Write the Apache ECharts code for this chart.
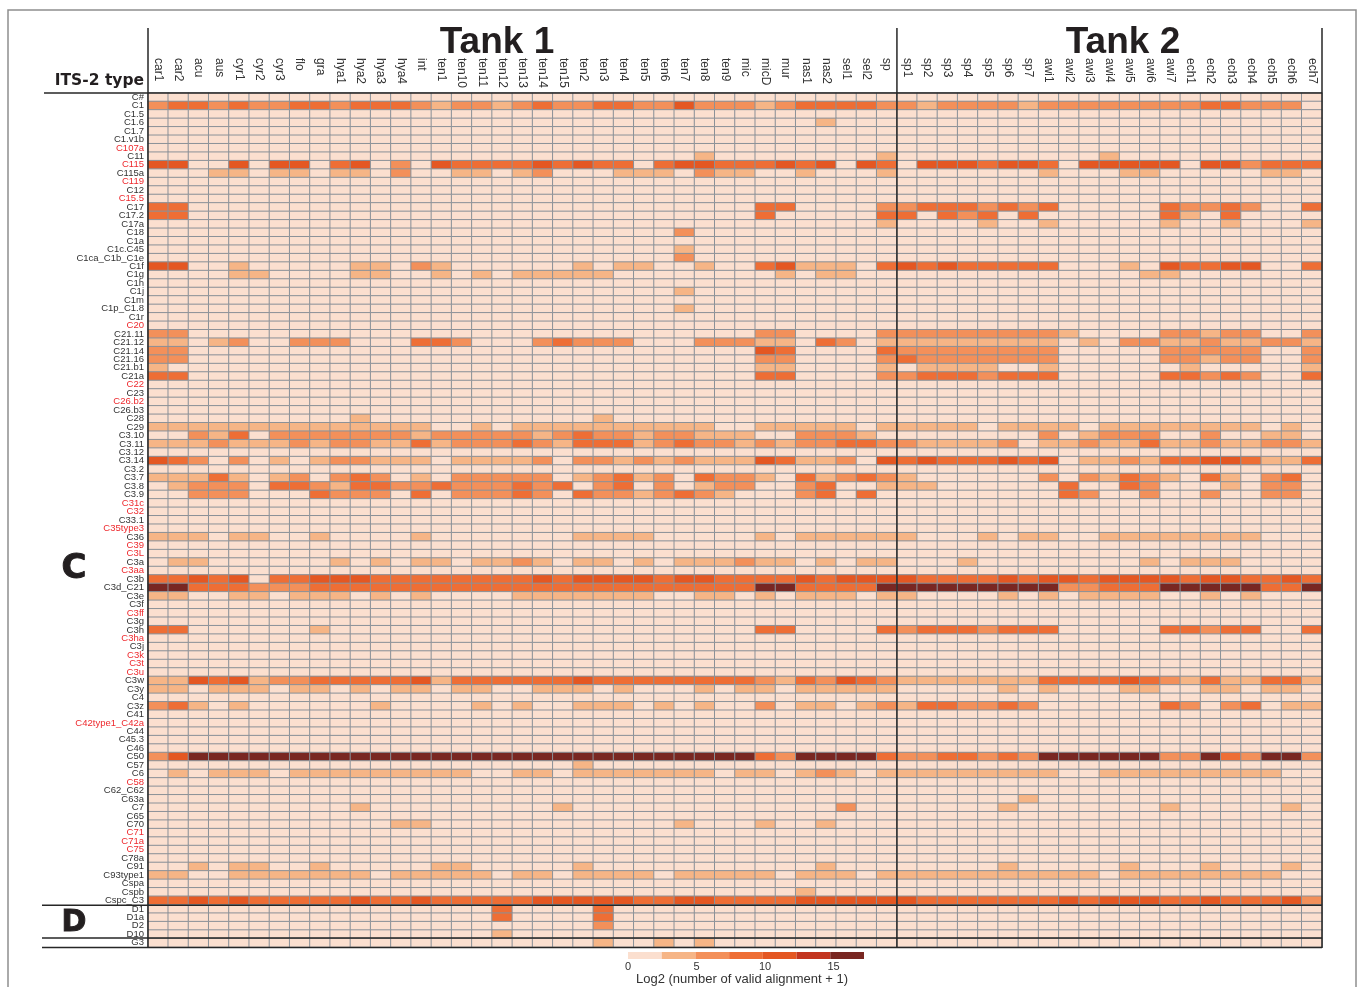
<!DOCTYPE html>
<html>
<head>
<meta charset="utf-8">
<title>ITS-2 type heat map</title>
<script src="https://cdn.jsdelivr.net/npm/echarts@6/dist/echarts.min.js"></script>
<style>html,body{margin:0;padding:0;background:#fff}#c{width:1358px;height:987px}</style>
</head>
<body>
<div id="c"></div>
<script>
const samples = ['car1','car2','acu','aus','cyr1','cyr2','cyr3','flo','gra','hya1','hya2','hya3','hya4','int','ten1','ten10','ten11','ten12','ten13','ten14','ten15','ten2','ten3','ten4','ten5','ten6','ten7','ten8','ten9','mic','micD','mur','nas1','nas2','sel1','sel2','sp','sp1','sp2','sp3','sp4','sp5','sp6','sp7','awi1','awi2','awi3','awi4','awi5','awi6','awi7','ech1','ech2','ech3','ech4','ech5','ech6','ech7'];
const types = ['C#','C1','C1.5','C1.6','C1.7','C1.v1b','C107a','C11','C115','C115a','C119','C12','C15.5','C17','C17.2','C17a','C18','C1a','C1c.C45','C1ca_C1b_C1e','C1f','C1g','C1h','C1j','C1m','C1p_C1.8','C1r','C20','C21.11','C21.12','C21.14','C21.16','C21.b1','C21a','C22','C23','C26.b2','C26.b3','C28','C29','C3.10','C3.11','C3.12','C3.14','C3.2','C3.7','C3.8','C3.9','C31c','C32','C33.1','C35type3','C36','C39','C3L','C3a','C3aa','C3b','C3d_C21','C3e','C3f','C3ff','C3g','C3h','C3ha','C3j','C3k','C3t','C3u','C3w','C3y','C4','C3z','C41','C42type1_C42a','C44','C45.3','C46','C50','C57','C6','C58','C62_C62','C63a','C7','C65','C70','C71','C71a','C75','C78a','C91','C93type1','Cspa','Cspb','Cspc_C3','D1','D1a','D2','D10','G3'];
const redTypes = ['C107a','C115','C119','C15.5','C20','C22','C26.b2','C31c','C32','C35type3','C39','C3L','C3aa','C3ff','C3ha','C3k','C3t','C3u','C42type1_C42a','C58','C71','C71a','C75'];
// Legend bin read for each cell (0 = lightest ... 6 = darkest). Rows not listed are all bin 0.
const rC1      = [2,3,3,2,3,2,2,3,3,2,3,3,3,2,1, 2,2,1,2,3,2,2,3,3,2,2,4,2,2,2,1,2,3,3,3,3,2, 2,1,2,2,2,2,1,2,2,2,2,2,2,2,2,3,3,2,2,2,0];
const rC1_6    = [0,0,0,0,0,0,0,0,0,0,0,0,0,0,0, 0,0,0,0,0,0,0,0,0,0,0,0,0,0,0,0,0,0,1,0,0,0, 0,0,0,0,0,0,0,0,0,0,0,0,0,0,0,0,0,0,0,0,0];
const rC11     = [0,0,0,0,0,0,0,0,0,0,0,0,0,0,0, 0,0,0,0,0,0,0,0,0,0,0,0,1,0,0,0,0,0,0,0,0,1, 0,0,0,0,0,0,0,0,0,0,1,0,0,0,0,0,0,0,0,0,0];
const rC115    = [4,4,0,0,4,0,4,4,0,3,4,0,2,0,4, 3,3,3,3,4,3,4,3,3,0,3,4,4,3,3,3,4,3,4,0,4,3, 0,4,4,4,3,4,4,3,0,4,4,4,4,4,0,4,4,2,3,3,3];
const rC115a   = [0,0,0,1,1,0,1,1,0,1,1,0,2,0,0, 1,1,0,1,2,0,0,0,1,1,1,0,2,1,1,0,0,1,0,0,0,1, 0,0,0,0,0,0,0,1,0,0,0,1,1,0,0,0,0,0,1,1,0];
const rC17     = [3,3,0,0,0,0,0,0,0,0,0,0,0,0,0, 0,0,0,0,0,0,0,0,0,0,0,0,0,0,0,3,3,0,0,0,0,2, 2,3,3,3,2,3,2,3,0,0,0,0,0,3,2,2,3,2,0,0,3];
const rC17_2   = [3,3,0,0,0,0,0,0,0,0,0,0,0,0,0, 0,0,0,0,0,0,0,0,0,0,0,0,0,0,0,3,0,0,0,0,0,3, 3,0,3,2,3,0,3,0,0,0,0,0,0,3,1,0,3,0,0,0,0];
const rC17a    = [0,0,0,0,0,0,0,0,0,0,0,0,0,0,0, 0,0,0,0,0,0,0,0,0,0,0,0,0,0,0,0,0,0,0,0,0,1, 0,0,0,0,1,0,0,1,0,0,0,0,0,1,0,0,1,0,0,0,1];
const rC18     = [0,0,0,0,0,0,0,0,0,0,0,0,0,0,0, 0,0,0,0,0,0,0,0,0,0,0,2,0,0,0,0,0,0,0,0,0,0, 0,0,0,0,0,0,0,0,0,0,0,0,0,0,0,0,0,0,0,0,0];
const rC1c_C45 = [0,0,0,0,0,0,0,0,0,0,0,0,0,0,0, 0,0,0,0,0,0,0,0,0,0,0,1,0,0,0,0,0,0,0,0,0,0, 0,0,0,0,0,0,0,0,0,0,0,0,0,0,0,0,0,0,0,0,0];
const rC1ca    = [0,0,0,0,0,0,0,0,0,0,0,0,0,0,0, 0,0,0,0,0,0,0,0,0,0,0,2,0,0,0,0,0,0,0,0,0,0, 0,0,0,0,0,0,0,0,0,0,0,0,0,0,0,0,0,0,0,0,0];
const rC1f     = [4,4,0,0,1,0,0,0,0,0,1,1,0,2,1, 0,0,0,0,0,0,1,0,1,1,0,0,1,0,0,3,4,1,1,1,0,3, 4,3,4,3,3,3,3,3,0,0,0,1,0,4,3,3,4,4,0,0,3];
const rC1g     = [0,0,0,0,1,1,0,0,0,0,1,1,0,0,1, 0,1,0,1,1,1,1,1,0,0,0,0,0,0,0,0,1,0,1,1,0,0, 0,0,0,0,0,0,0,0,0,0,0,0,1,1,0,0,0,0,0,0,0];
const rC1j     = [0,0,0,0,0,0,0,0,0,0,0,0,0,0,0, 0,0,0,0,0,0,0,0,0,0,0,1,0,0,0,0,0,0,0,0,0,0, 0,0,0,0,0,0,0,0,0,0,0,0,0,0,0,0,0,0,0,0,0];
const rC1p     = [0,0,0,0,0,0,0,0,0,0,0,0,0,0,0, 0,0,0,0,0,0,0,0,0,0,0,1,0,0,0,0,0,0,0,0,0,0, 0,0,0,0,0,0,0,0,0,0,0,0,0,0,0,0,0,0,0,0,0];
const rC21_11  = [2,2,0,0,0,0,0,0,0,0,0,0,0,0,0, 0,0,0,0,0,0,0,0,0,0,0,0,0,0,0,2,2,0,0,0,0,2, 2,2,2,2,2,2,2,2,1,0,0,0,0,2,2,1,2,2,0,0,2];
const rC21_12  = [1,1,0,1,2,0,0,2,2,2,0,0,0,3,3, 2,0,0,0,2,3,2,2,2,0,0,0,2,2,2,1,1,0,3,2,0,1, 1,1,1,1,1,1,1,1,0,1,0,2,2,1,1,2,1,1,2,2,1];
const rC21_14  = [2,2,0,0,0,0,0,0,0,0,0,0,0,0,0, 0,0,0,0,0,0,0,0,0,0,0,0,0,0,0,4,3,0,0,0,0,3, 2,2,2,2,2,2,2,2,0,0,0,0,0,2,2,2,2,2,0,0,2];
const rC21_16  = [2,2,0,0,0,0,0,0,0,0,0,0,0,0,0, 0,0,0,0,0,0,0,0,0,0,0,0,0,0,0,2,2,0,0,0,0,2, 3,2,2,2,2,2,2,2,0,0,0,0,0,2,2,1,2,2,0,0,2];
const rC21_b1  = [1,0,0,0,0,0,0,0,0,0,0,0,0,0,0, 0,0,0,0,0,0,0,0,0,0,0,0,0,0,0,1,1,0,0,0,0,1, 0,1,1,1,1,0,0,1,0,0,0,0,0,0,1,0,0,0,0,0,1];
const rC21a    = [3,3,0,0,0,0,0,0,0,0,0,0,0,0,0, 0,0,0,0,0,0,0,0,0,0,0,0,0,0,0,3,3,0,0,0,0,2, 2,3,3,3,2,3,3,3,0,0,0,0,0,3,3,2,3,2,0,0,3];
const rC28     = [0,0,0,0,0,0,0,0,0,0,1,0,0,0,0, 0,0,0,0,0,0,0,1,0,0,0,0,0,0,0,0,0,0,0,0,0,0, 0,0,0,0,0,0,0,0,0,0,0,0,0,0,0,0,0,0,0,0,0];
const rC29     = [1,1,1,1,1,1,1,1,1,1,1,1,1,1,0, 0,1,0,1,1,1,1,1,1,1,1,1,1,0,0,1,1,1,1,1,0,1, 1,1,1,1,0,1,1,1,1,0,1,1,1,1,1,1,1,1,0,1,0];
const rC3_10   = [0,0,2,1,3,0,2,2,2,2,2,2,2,1,2, 2,2,2,2,1,2,3,2,2,1,2,2,1,1,1,0,0,2,2,2,1,0, 0,0,0,0,0,0,0,2,0,1,2,2,2,0,0,2,0,0,1,1,0];
const rC3_11   = [1,1,1,2,1,1,1,2,1,2,2,1,1,3,1, 2,2,2,3,2,1,3,3,3,1,2,3,2,2,1,2,1,2,2,3,3,2, 2,1,1,1,1,2,0,1,1,2,1,1,3,1,1,2,1,1,2,2,1];
const rC3_14   = [4,3,2,0,2,0,1,0,1,2,2,1,1,1,0, 1,1,1,1,2,0,2,2,1,2,1,2,1,1,1,4,3,1,1,2,0,4, 3,4,3,3,3,4,3,4,0,1,1,2,1,3,3,4,4,3,1,1,3];
const rC3_7    = [1,1,1,3,1,0,1,2,0,2,3,2,0,1,0, 2,2,2,2,2,0,1,2,3,1,2,0,3,2,2,1,0,3,1,2,3,2, 1,0,0,0,0,0,0,2,0,2,1,3,2,1,0,3,1,0,2,3,0];
const rC3_8    = [0,1,2,2,2,0,3,3,2,1,3,3,2,2,3, 2,2,2,3,2,3,0,2,3,0,2,0,1,2,2,0,0,2,3,0,0,1, 1,1,0,0,0,0,0,0,3,0,0,3,2,0,0,0,1,0,2,2,0];
const rC3_9    = [0,0,2,2,2,0,0,0,3,2,2,2,0,3,0, 2,2,2,3,2,0,3,2,2,1,2,3,2,1,0,0,0,2,3,0,3,0, 0,0,0,0,0,0,0,0,3,2,0,0,2,0,0,2,0,0,2,2,0];
const rC36     = [1,1,1,0,1,1,0,0,1,0,0,0,0,1,0, 0,0,0,0,0,0,1,1,1,1,0,0,0,0,0,1,0,1,1,1,1,1, 1,0,0,0,1,0,1,1,0,0,1,1,1,1,1,1,1,1,0,0,0];
const rC3a     = [0,1,1,0,0,0,0,0,0,1,0,1,0,1,1, 0,1,1,2,1,0,1,1,0,1,0,1,1,1,2,1,1,0,1,0,1,1, 0,0,0,1,0,0,0,0,0,0,0,0,1,0,1,1,1,0,0,0,0];
const rC3b     = [3,3,4,3,4,0,3,3,4,4,4,3,3,3,3, 3,3,3,3,4,3,4,4,4,4,3,4,4,3,3,3,3,4,3,4,4,4, 4,3,3,3,3,4,3,4,4,3,4,4,4,4,3,4,4,3,3,4,3];
const rC3d_C21 = [6,6,3,3,3,2,2,2,3,3,3,3,3,3,3, 3,3,3,3,3,3,3,3,3,3,3,3,3,3,3,6,6,3,3,3,3,6, 6,6,6,6,6,6,6,6,2,2,3,3,3,6,6,6,6,6,3,3,6];
const rC3e     = [1,1,0,0,1,1,0,1,1,1,0,1,0,1,0, 0,0,0,1,1,1,1,1,1,1,0,0,1,1,0,1,0,1,1,1,0,1, 1,0,0,0,0,1,0,1,0,1,1,1,1,0,0,1,0,1,0,0,0];
const rC3h     = [3,3,0,0,0,0,0,0,1,0,0,0,0,0,0, 0,0,0,0,0,0,0,0,0,0,0,0,0,0,0,3,3,0,0,0,0,3, 2,3,3,3,2,3,3,3,0,0,0,0,0,3,3,2,3,3,0,0,3];
const rC3w     = [1,1,4,3,4,1,2,2,3,3,3,3,3,4,1, 3,3,3,3,3,3,4,3,3,3,3,3,3,3,3,2,1,3,2,4,3,2, 1,1,1,1,1,1,1,3,3,3,3,4,3,2,1,3,1,1,3,3,1];
const rC3y     = [1,1,0,1,1,1,0,1,1,0,1,0,1,1,0, 1,1,0,0,1,1,1,0,1,0,0,0,1,0,1,1,0,1,1,1,1,1, 0,0,0,0,0,1,0,1,0,0,0,1,1,0,0,1,1,0,1,1,0];
const rC3z     = [2,3,1,0,1,0,0,0,0,0,0,1,0,0,0, 0,1,0,1,0,0,1,1,1,0,1,0,1,0,0,2,0,1,1,0,1,2, 1,3,3,2,2,3,2,0,0,0,0,0,0,3,2,0,2,3,0,1,1];
const rC50     = [2,4,6,6,6,6,6,6,6,6,6,6,6,6,6, 6,6,6,6,6,6,6,6,6,6,6,6,6,6,6,3,2,6,6,6,6,3, 2,2,3,3,2,3,2,6,6,6,6,6,6,2,2,6,3,2,6,6,2];
const rC57     = [0,0,0,0,0,0,0,0,0,0,0,0,0,0,0, 0,0,0,0,0,0,1,0,0,0,0,0,0,0,0,0,0,0,0,0,0,0, 0,0,0,0,0,0,0,0,0,0,0,0,0,0,0,0,0,0,0,0,0];
const rC6      = [0,1,0,1,1,1,0,1,1,1,1,1,1,1,1, 1,0,0,1,1,0,1,1,1,1,1,1,1,0,1,1,0,1,2,1,0,1, 1,1,1,1,1,1,1,1,0,0,1,1,1,1,1,1,1,1,1,0,0];
const rC63a    = [0,0,0,0,0,0,0,0,0,0,0,0,0,0,0, 0,0,0,0,0,0,0,0,0,0,0,0,0,0,0,0,0,0,0,0,0,0, 0,0,0,0,0,0,1,0,0,0,0,0,0,0,0,0,0,0,0,0,0];
const rC7      = [0,0,0,0,0,0,0,0,0,0,1,0,0,0,0, 0,0,0,0,0,1,0,0,0,0,0,0,0,0,0,0,0,0,0,2,0,0, 0,0,0,0,0,1,0,0,0,0,0,0,0,1,0,0,0,0,0,1,0];
const rC70     = [0,0,0,0,0,0,0,0,0,0,0,0,1,1,0, 0,0,0,0,0,0,0,0,0,0,0,1,0,0,0,1,0,0,1,0,0,0, 0,0,0,0,0,0,0,0,0,0,0,0,0,0,0,0,0,0,0,0,0];
const rC91     = [0,0,1,0,1,1,0,0,1,0,0,0,0,0,1, 1,0,0,0,0,0,1,0,0,0,0,0,0,0,0,0,0,0,1,0,0,0, 0,0,0,0,0,1,0,0,0,0,0,1,0,0,0,1,0,0,0,1,0];
const rC93type1= [1,1,0,0,1,1,1,1,1,1,1,0,1,1,1, 1,1,0,1,1,0,1,1,1,1,0,1,1,1,1,1,0,1,1,1,0,1, 1,1,1,1,1,1,1,1,1,1,0,1,1,1,1,1,1,1,1,0,0];
const rCspb    = [0,0,0,0,0,0,0,0,0,0,0,0,0,0,0, 0,0,0,0,0,0,0,0,0,0,0,0,0,0,0,0,0,1,0,0,0,0, 0,0,0,0,0,0,0,0,0,0,0,0,0,0,0,0,0,0,0,0,0];
const rCspc_C3 = [3,3,4,3,4,3,3,3,3,3,4,3,3,4,3, 3,3,3,3,4,4,4,4,4,3,3,4,4,3,3,3,3,4,4,4,4,4, 4,3,3,3,3,3,3,3,4,3,4,4,4,3,3,4,3,3,3,4,2];
const rD1      = [0,0,0,0,0,0,0,0,0,0,0,0,0,0,0, 0,0,3,0,0,0,0,3,0,0,0,0,0,0,0,0,0,0,0,0,0,0, 0,0,0,0,0,0,0,0,0,0,0,0,0,0,0,0,0,0,0,0,0];
const rD1a     = [0,0,0,0,0,0,0,0,0,0,0,0,0,0,0, 0,0,3,0,0,0,0,3,0,0,0,0,0,0,0,0,0,0,0,0,0,0, 0,0,0,0,0,0,0,0,0,0,0,0,0,0,0,0,0,0,0,0,0];
const rD2      = [0,0,0,0,0,0,0,0,0,0,0,0,0,0,0, 0,0,0,0,0,0,0,2,0,0,0,0,0,0,0,0,0,0,0,0,0,0, 0,0,0,0,0,0,0,0,0,0,0,0,0,0,0,0,0,0,0,0,0];
const rD10     = [0,0,0,0,0,0,0,0,0,0,0,0,0,0,0, 0,0,1,0,0,0,0,0,0,0,0,0,0,0,0,0,0,0,0,0,0,0, 0,0,0,0,0,0,0,0,0,0,0,0,0,0,0,0,0,0,0,0,0];
const rG3      = [0,0,0,0,0,0,0,0,0,0,0,0,0,0,0, 0,0,0,0,0,0,0,1,0,0,1,0,1,0,0,0,0,0,0,0,0,0, 0,0,0,0,0,0,0,0,0,0,0,0,0,0,0,0,0,0,0,0,0];

const rowTable = {'C1':rC1,'C1.6':rC1_6,'C11':rC11,'C115':rC115,'C115a':rC115a,'C17':rC17,'C17.2':rC17_2,'C17a':rC17a,'C18':rC18,'C1c.C45':rC1c_C45,'C1ca_C1b_C1e':rC1ca,'C1f':rC1f,'C1g':rC1g,'C1j':rC1j,'C1p_C1.8':rC1p,'C21.11':rC21_11,'C21.12':rC21_12,'C21.14':rC21_14,'C21.16':rC21_16,'C21.b1':rC21_b1,'C21a':rC21a,'C28':rC28,'C29':rC29,'C3.10':rC3_10,'C3.11':rC3_11,'C3.14':rC3_14,'C3.7':rC3_7,'C3.8':rC3_8,'C3.9':rC3_9,'C36':rC36,'C3a':rC3a,'C3b':rC3b,'C3d_C21':rC3d_C21,'C3e':rC3e,'C3h':rC3h,'C3w':rC3w,'C3y':rC3y,'C3z':rC3z,'C50':rC50,'C57':rC57,'C6':rC6,'C63a':rC63a,'C7':rC7,'C70':rC70,'C91':rC91,'C93type1':rC93type1,'Cspb':rCspb,'Cspc_C3':rCspc_C3,'D1':rD1,'D1a':rD1a,'D2':rD2,'D10':rD10,'G3':rG3};

const binColors = ['#FBDFCF','#F6B586','#F3905A','#EE6E35','#E45722','#C3351F','#792722'];
const binWidth = 2.46;

// layout constants
const L = 148, T = 93, W = 1174, H = 854;
const colW = W / samples.length, rowH = H / types.length;
const colEdge = i => L + i * colW, rowEdge = i => T + i * rowH;
const rowAfter = name => rowEdge(types.indexOf(name) + 1);

const cells = [];
types.forEach((t, y) => {
  const row = rowTable[t];
  samples.forEach((s, x) => {
    const bin = row ? row[x] : 0;
    cells.push([x, y, (bin + 0.5) * binWidth]);
  });
});

const dark = '#262626';
const hLine = (y, x1) => ({type:'line', z:100, shape:{x1:x1, y1:y, x2:L+W, y2:y}, style:{stroke:dark, lineWidth:1.5}});
const vLine = (x) => ({type:'line', z:100, shape:{x1:x, y1:28, x2:x, y2:T+H+1}, style:{stroke:dark, lineWidth:1.5}});
const heavyFont = '"DejaVu Sans"';

const option = {
  animation:false,
  backgroundColor:'#ffffff',
  textStyle:{fontFamily:'"Liberation Sans"'},
  title:[
    {text:'Tank 1', left:497, top:24, padding:0, textAlign:'center', textStyle:{fontSize:37, fontWeight:'bold', color:'#231f20', fontFamily:'"Liberation Sans"'}},
    {text:'Tank 2', left:1123, top:24, padding:0, textAlign:'center', textStyle:{fontSize:37, fontWeight:'bold', color:'#231f20', fontFamily:'"Liberation Sans"'}},
    {text:'ITS-2 type', left:144, top:73, padding:0, textAlign:'right', textStyle:{fontSize:15.5, fontWeight:'bold', color:'#231f20', fontFamily:heavyFont}}
  ],
  grid:[
    {left:L, top:T, width:W, height:H, containLabel:false},
    {left:628, top:952, width:236, height:9}
  ],
  xAxis:[
    {type:'category', gridIndex:0, position:'top', data:samples, axisLine:{show:false}, axisTick:{show:false}, splitLine:{show:false},
     axisLabel:{interval:0, rotate:90, align:'left', verticalAlign:'middle', margin:35, fontSize:12, color:'#333333', fontFamily:'"Liberation Sans"'}},
    {type:'value', gridIndex:1, min:0, max:binWidth*binColors.length, interval:5, axisLine:{show:false}, axisTick:{show:false}, splitLine:{show:false},
     axisLabel:{margin:2, fontSize:11, color:'#333333', showMaxLabel:false, fontFamily:'"Liberation Sans"'},
     name:'Log2 (number of valid alignment + 1)', nameLocation:'middle', nameGap:12, nameTextStyle:{fontSize:13, color:'#333333', padding:[0,8,0,0], fontFamily:'"Liberation Sans"'}}
  ],
  yAxis:[
    {type:'category', gridIndex:0, inverse:true, data:types, axisLine:{show:false}, axisTick:{show:false}, splitLine:{show:false},
     axisLabel:{interval:0, margin:4, fontSize:9.5, fontFamily:'"Liberation Sans"',
       color:(v)=> redTypes.includes(v) ? '#ee2a2e' : '#333333'}},
    {type:'category', gridIndex:1, data:['legend'], show:false}
  ],
  visualMap:{type:'piecewise', show:false, seriesIndex:0, dimension:2,
    pieces:binColors.map((c,i)=>({gte:i*binWidth, lt:(i+1)*binWidth, color:c}))},
  series:[
    {type:'heatmap', xAxisIndex:0, yAxisIndex:0, data:cells, silent:true, progressive:0,
     itemStyle:{borderColor:'#8b9198', borderWidth:1}, emphasis:{disabled:true}},
    ...binColors.map(c=>({type:'bar', xAxisIndex:1, yAxisIndex:1, stack:'legend', barWidth:'100%', silent:true,
      data:[binWidth], itemStyle:{color:c}}))
  ],
  graphic:{elements:[
    {type:'rect', z:100, shape:{x:8, y:10, width:1348, height:1000}, style:{fill:'none', stroke:'#8e8e8e', lineWidth:1.5}},
    vLine(L), vLine(colEdge(samples.indexOf('sp1'))), vLine(L+W),
    hLine(T, 44),
    hLine(rowAfter('Cspc_C3')+0.5, 42),
    hLine(rowAfter('D10')-0.5, 42),
    hLine(T+H+0.5, 42),
    {type:'text', z:100, style:{text:'C', x:74, y:3+(rowEdge(types.indexOf('C3a'))+rowEdge(types.indexOf('C3aa')+1))/2, font:'bold 34px '+heavyFont, fill:'#231f20', stroke:'#231f20', lineWidth:1, align:'center', verticalAlign:'middle'}},
    {type:'text', z:100, style:{text:'D', x:74, y:2+(rowEdge(types.indexOf('D1'))+rowEdge(types.indexOf('D10')+1))/2, font:'bold 30px '+heavyFont, fill:'#231f20', stroke:'#231f20', lineWidth:1, align:'center', verticalAlign:'middle'}}
  ]}
};
const chart = echarts.init(document.getElementById('c'), null, {renderer:'canvas', width:1358, height:987});
chart.setOption(option);
</script>
</body>
</html>
